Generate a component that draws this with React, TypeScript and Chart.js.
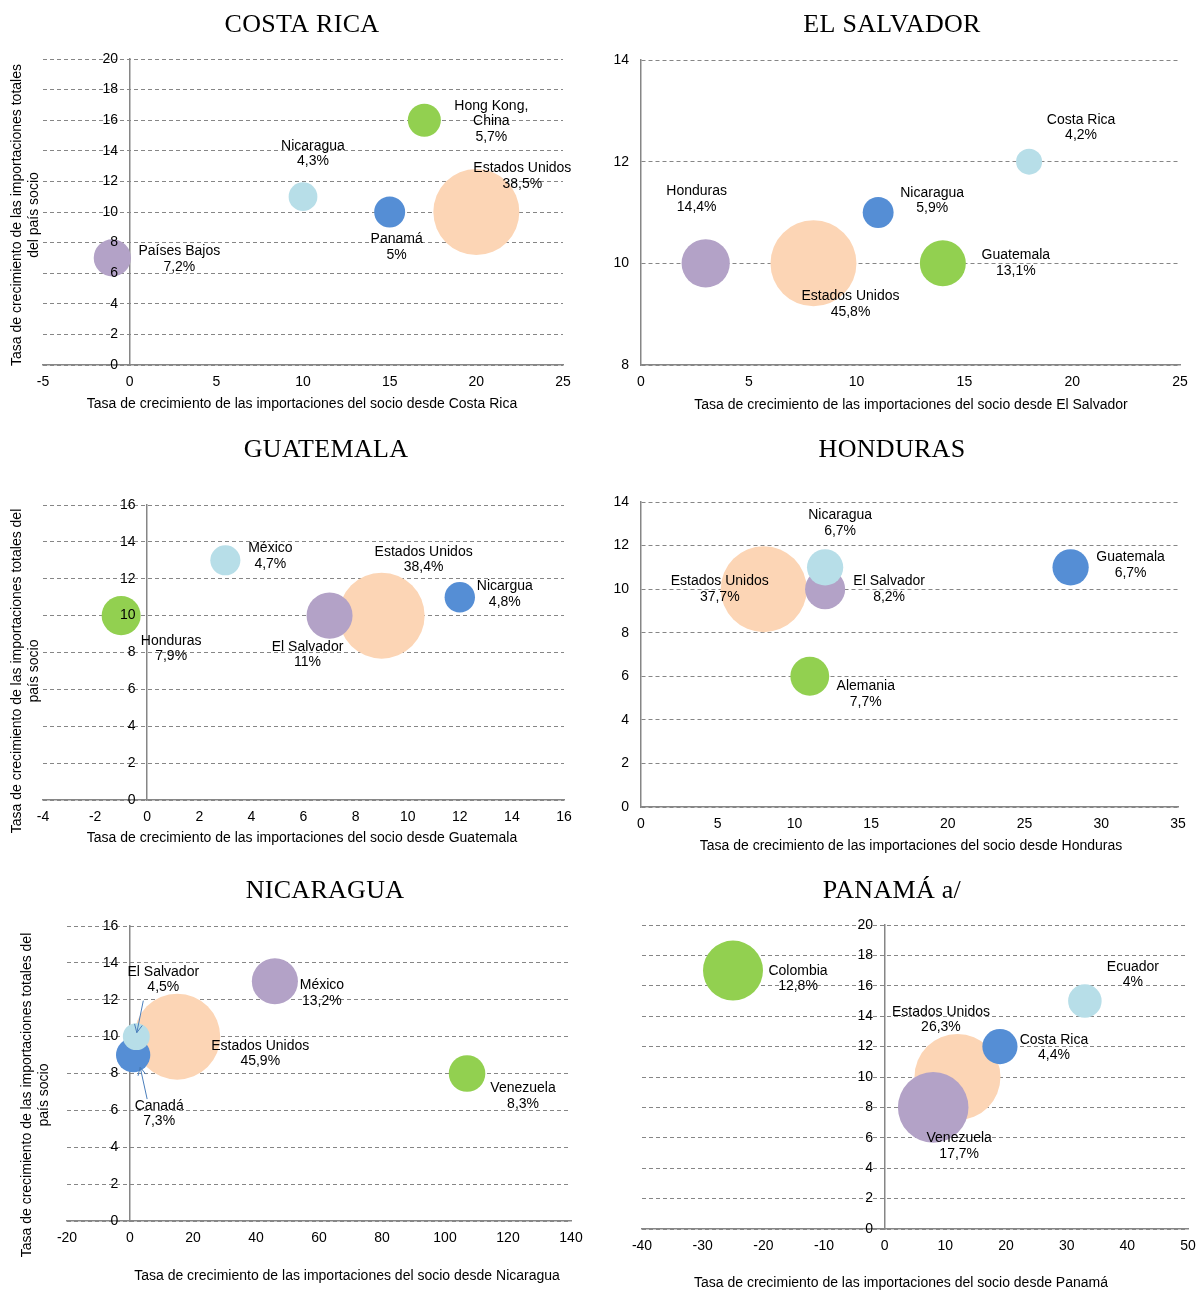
import React, { useEffect, useRef } from 'react';
import { Chart, registerables } from 'chart.js';

Chart.register(...registerables);

// ---- colours (Excel-like palette) ----
const GREEN = '#92D050';
const PEACH = '#FCD5B5';
const PURPLE = '#B3A2C7';
const BLUE = '#558ED5';
const LIGHT = '#B7DEE8';
const GRID = '#868686';
const AXIS = '#868686';
const SANS = "'Liberation Sans', Arial, sans-serif";
const SERIF = "'Liberation Serif', 'Times New Roman', serif";

// ---- Costa Rica ----
const crPartners = ['Países Bajos', 'Nicaragua', 'Panamá', 'Hong Kong,\nChina', 'Estados Unidos'];
const crX = [-1, 10, 15, 17, 20];
const crY = [7, 11, 10, 16, 10];
const crShare = [7.2, 4.3, 5, 5.7, 38.5];

// ---- El Salvador ----
const svPartners = ['Honduras', 'Estados Unidos', 'Nicaragua', 'Guatemala', 'Costa Rica'];
const svX = [3, 8, 11, 14, 18];
const svY = [10, 10, 11, 10, 12];
const svShare = [14.4, 45.8, 5.9, 13.1, 4.2];

// ---- Guatemala ----
const gtPartners = ['Honduras', 'México', 'Estados Unidos', 'El Salvador', 'Nicargua'];
const gtX = [-1, 3, 9, 7, 12];
const gtY = [10, 13, 10, 10, 11];
const gtShare = [7.9, 4.7, 38.4, 11, 4.8];

// ---- Honduras ----
const hnPartners = ['Estados Unidos', 'El Salvador', 'Nicaragua', 'Alemania', 'Guatemala'];
const hnX = [8, 12, 12, 11, 28];
const hnY = [10, 10, 11, 6, 11];
const hnShare = [37.7, 8.2, 6.7, 7.7, 6.7];

// ---- Nicaragua ----
const niPartners = ['Estados Unidos', 'Canadá', 'El Salvador', 'México', 'Venezuela'];
const niX = [15, 1, 2, 46, 107];
const niY = [10, 9, 10, 13, 8];
const niShare = [45.9, 7.3, 4.5, 13.2, 8.3];

// ---- Panamá ----
const paPartners = ['Estados Unidos', 'Venezuela', 'Colombia', 'Costa Rica', 'Ecuador'];
const paX = [12, 8, -25, 19, 33];
const paY = [10, 8, 17, 12, 15];
const paShare = [26.3, 17.7, 12.8, 4.4, 4];

const X_TITLE = 'Tasa de crecimiento de las importaciones del socio desde ';

const pct = (v: number) => String(v).replace('.', ',') + '%';

const panels: any[] = [
  {
    title: 'COSTA RICA', titlePos: [302, 32],
    box: [0, 0, 599, 430], pad: { left: 43, right: 36, top: 59, bottom: 35 }, yAtZero: true,
    xr: [-5, 25, 5], yr: [0, 20, 2],
    xTitle: X_TITLE + 'Costa Rica', xTitlePos: [302, 404],
    yTitle: ['Tasa de crecimiento de las importaciones totales', 'del país socio'], yTitleX: [17, 34], yTitleY: 215,
    names: crPartners, xs: crX, ys: crY, shares: crShare,
    colors: [PURPLE, LIGHT, BLUE, GREEN, PEACH],
    offsets: [[67, 1], [10, -43], [7, 35], [67, 1], [46, -36]],
  },
  {
    title: 'EL SALVADOR', titlePos: [892, 32],
    box: [599, 0, 599, 430], pad: { left: 12, right: 18, top: 60, bottom: 35 }, yAtZero: false,
    xr: [0, 25, 5], yr: [8, 14, 2],
    xTitle: X_TITLE + 'El Salvador', xTitlePos: [911, 405],
    names: svPartners, xs: svX, ys: svY, shares: svShare,
    colors: [PURPLE, PEACH, BLUE, GREEN, LIGHT],
    offsets: [[-9, -64], [37, 41], [54, -12], [73, 0], [52, -34]],
  },
  {
    title: 'GUATEMALA', titlePos: [326, 457],
    box: [0, 430, 599, 440], pad: { left: 43, right: 35, top: 75, bottom: 40 }, yAtZero: true,
    xr: [-4, 16, 2], yr: [0, 16, 2],
    xTitle: X_TITLE + 'Guatemala', xTitlePos: [302, 838],
    yTitle: ['Tasa de crecimiento de las importaciones totales del', 'país socio'], yTitleX: [17, 34], yTitleY: 671,
    names: gtPartners, xs: gtX, ys: gtY, shares: gtShare,
    colors: [GREEN, LIGHT, PEACH, PURPLE, BLUE],
    offsets: [[50, 33], [45, -4], [42, -56], [-22, 39], [45, -3]],
  },
  {
    title: 'HONDURAS', titlePos: [892, 457],
    box: [599, 430, 599, 440], pad: { left: 12, right: 20, top: 72, bottom: 33 }, yAtZero: false,
    xr: [0, 35, 5], yr: [0, 14, 2],
    xTitle: X_TITLE + 'Honduras', xTitlePos: [911, 846],
    names: hnPartners, xs: hnX, ys: hnY, shares: hnShare,
    colors: [PEACH, PURPLE, LIGHT, GREEN, BLUE],
    offsets: [[-44, 0], [64, 0], [15, -44], [56, 18], [60, -2]],
  },
  {
    title: 'NICARAGUA', titlePos: [325, 898],
    box: [0, 870, 599, 420], pad: { left: 67, right: 28, top: 56, bottom: 39 }, yAtZero: true,
    xr: [-20, 140, 20], yr: [0, 16, 2],
    xTitle: X_TITLE + 'Nicaragua', xTitlePos: [347, 1276],
    yTitle: ['Tasa de crecimiento de las importaciones totales del', 'país socio'], yTitleX: [27, 44], yTitleY: 1095,
    names: niPartners, xs: niX, ys: niY, shares: niShare,
    colors: [PEACH, BLUE, LIGHT, PURPLE, GREEN],
    offsets: [[83, 17], [26, 58.5], [27, -57], [47, 12], [56, 22.5]],
    arrows: [[1, 14, 44, 7, 12], [2, 7, -36, 0.5, -4]],
  },
  {
    title: 'PANAMÁ a/', titlePos: [892, 898],
    box: [599, 870, 599, 420], pad: { left: 43, right: 10, top: 55, bottom: 31 }, yAtZero: true,
    xr: [-40, 50, 10], yr: [0, 20, 2],
    xTitle: X_TITLE + 'Panamá', xTitlePos: [901, 1283],
    names: paPartners, xs: paX, ys: paY, shares: paShare,
    colors: [PEACH, PURPLE, GREEN, BLUE, LIGHT],
    offsets: [[-16.5, -57.5], [26, 38.6], [65, 8], [54, 1], [48, -26.5]],
  },
];

// draws titles, axis titles, bubble labels and leader arrows
const panelText = {
  id: 'panelText',
  afterDatasetsDraw(chart: any, _args: any, opts: any) {
    const spec = opts.spec;
    if (!spec) return;
    const ctx = chart.ctx;
    const ox = spec.box[0];
    const oy = spec.box[1];
    ctx.save();
    ctx.fillStyle = '#000';

    // chart title
    ctx.font = `26px ${SERIF}`;
    ctx.letterSpacing = '0.3px';
    ctx.textAlign = 'center';
    ctx.textBaseline = 'alphabetic';
    ctx.fillText(spec.title, spec.titlePos[0] - ox, spec.titlePos[1] - oy);
    ctx.letterSpacing = '0px';

    ctx.font = `14px ${SANS}`;
    ctx.textBaseline = 'middle';
    ctx.fillText(spec.xTitle, spec.xTitlePos[0] - ox, spec.xTitlePos[1] - oy);

    if (spec.yTitle) {
      spec.yTitle.forEach((line: string, k: number) => {
        ctx.save();
        ctx.translate(spec.yTitleX[k] - ox, spec.yTitleY - oy);
        ctx.rotate(-Math.PI / 2);
        ctx.fillText(line, 0, 0);
        ctx.restore();
      });
    }

    const meta = chart.getDatasetMeta(0);

    // leader arrows
    (spec.arrows || []).forEach(([i, sx, sy, tx, ty]: number[]) => {
      const el = meta.data[i];
      const x1 = el.x + sx, y1 = el.y + sy, x2 = el.x + tx, y2 = el.y + ty;
      const a = Math.atan2(y2 - y1, x2 - x1);
      ctx.strokeStyle = '#4A7EBB';
      ctx.lineWidth = 1;
      ctx.beginPath();
      ctx.moveTo(x1, y1);
      ctx.lineTo(x2, y2);
      ctx.moveTo(x2 - 9 * Math.cos(a - 0.45), y2 - 9 * Math.sin(a - 0.45));
      ctx.lineTo(x2, y2);
      ctx.lineTo(x2 - 9 * Math.cos(a + 0.45), y2 - 9 * Math.sin(a + 0.45));
      ctx.stroke();
    });

    // bubble labels
    spec.names.forEach((name: string, i: number) => {
      const el = meta.data[i];
      const lines = name.split('\n').concat(pct(spec.shares[i]));
      const cx = el.x + spec.offsets[i][0];
      const cy = el.y + spec.offsets[i][1];
      lines.forEach((t: string, k: number) => {
        ctx.fillText(t, cx, cy + (k - (lines.length - 1) / 2) * 15.5);
      });
    });
    ctx.restore();
  },
};

function makeConfig(spec: any): any {
  const maxShare = Math.max(...spec.shares);
  const tickFont = { family: SANS, size: 14 };
  return {
    type: 'bubble',
    data: {
      datasets: [
        {
          data: spec.xs.map((x: number, i: number) => ({
            x,
            y: spec.ys[i],
            r: 43 * Math.sqrt(spec.shares[i] / maxShare),
          })),
          backgroundColor: spec.colors,
          borderWidth: 0,
          clip: false,
        },
      ],
    },
    options: {
      responsive: false,
      animation: false,
      events: [],
      layout: { padding: spec.pad, autoPadding: false },
      plugins: {
        legend: { display: false },
        tooltip: { enabled: false },
        panelText: { spec },
      },
      scales: {
        x: {
          type: 'linear',
          min: spec.xr[0],
          max: spec.xr[1],
          ticks: { stepSize: spec.xr[2], font: tickFont, color: '#000', padding: 9, maxRotation: 0, autoSkip: false },
          grid: { display: false, drawTicks: false },
          border: { display: true, color: AXIS, width: 1.5 },
          afterFit: (s: any) => {
            s.height = 30;
            s.paddingLeft = 0;
            s.paddingRight = 0;
          },
        },
        y: {
          type: 'linear',
          position: spec.yAtZero ? { x: 0 } : 'left',
          min: spec.yr[0],
          max: spec.yr[1],
          ticks: {
            stepSize: spec.yr[2],
            font: tickFont,
            color: '#000',
            padding: 12,
            z: 1,
            // labels of an axis placed at x = 0 sit flush on the line; pad them with spaces
            callback: spec.yAtZero ? (v: any) => `${v}   ` : (v: any) => `${v}`,
          },
          grid: { color: GRID, lineWidth: 1, drawTicks: false },
          border: { display: true, color: AXIS, width: 1.5, dash: [4, 3] },
          afterFit: (s: any) => {
            if (!spec.yAtZero) s.width = 30;
            s.paddingTop = 0;
            s.paddingBottom = 0;
          },
        },
      },
    },
    plugins: [panelText],
  };
}

function Panel({ spec }: { spec: any }) {
  const ref = useRef<HTMLCanvasElement>(null);
  useEffect(() => {
    if (!ref.current) return;
    const chart = new Chart(ref.current, makeConfig(spec));
    return () => chart.destroy();
  }, [spec]);
  const [left, top, w, h] = spec.box;
  return (
    <canvas
      ref={ref}
      width={w}
      height={h}
      style={{ position: 'absolute', left, top, width: w, height: h }}
    />
  );
}

export default function App() {
  return (
    <div style={{ position: 'absolute', left: 0, top: 0, width: 1198, height: 1290, background: '#fff', overflow: 'hidden' }}>
      {panels.map((p) => (
        <Panel key={p.title} spec={p} />
      ))}
    </div>
  );
}
